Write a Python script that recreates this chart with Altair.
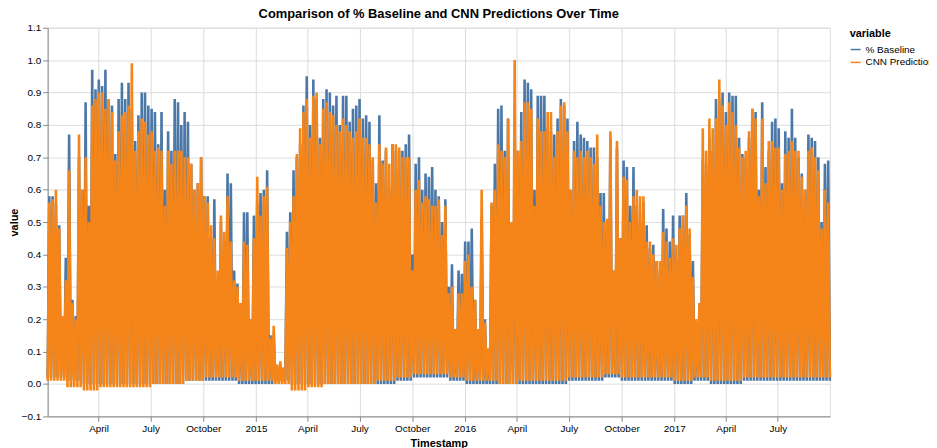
import altair as alt
import pandas as pd

# Peak of the daily cycle in each ~5.8-day step, read left to right off the picture
baseline_peaks = [
    0.58, 0.58, 0.56, 0.49, 0.20, 0.39, 0.77, 0.26, 0.21, 0.70,
    0.60, 0.87, 0.55, 0.97, 0.91, 0.94, 0.92, 0.97, 0.88, 0.86,
    0.71, 0.88, 0.93, 0.88, 0.93, 0.85, 0.75, 0.83, 0.90, 0.90,
    0.86, 0.85, 0.84, 0.74, 0.84, 0.60, 0.78, 0.72, 0.88, 0.87,
    0.80, 0.84, 0.81, 0.68, 0.60, 0.62, 0.70, 0.58, 0.58, 0.45,
    0.57, 0.30, 0.50, 0.44, 0.65, 0.62, 0.35, 0.31, 0.25, 0.53,
    0.53, 0.20, 0.52, 0.56, 0.59, 0.60, 0.66, 0.15, 0.15, 0.05,
    0.05, 0.05, 0.47, 0.53, 0.66, 0.70, 0.74, 0.86, 0.95, 0.80,
    0.94, 0.88, 0.76, 0.88, 0.91, 0.90, 0.86, 0.89, 0.80, 0.89,
    0.89, 0.81, 0.85, 0.86, 0.88, 0.82, 0.83, 0.81, 0.69, 0.62,
    0.83, 0.69, 0.72, 0.60, 0.74, 0.72, 0.72, 0.72, 0.74, 0.77,
    0.40, 0.68, 0.70, 0.60, 0.65, 0.64, 0.67, 0.60, 0.58, 0.50,
    0.57, 0.30, 0.37, 0.17, 0.35, 0.34, 0.44, 0.44, 0.48, 0.26,
    0.16, 0.51, 0.20, 0.10, 0.55, 0.68, 0.85, 0.86, 0.72, 0.82,
    0.48, 0.80, 0.72, 0.84, 0.94, 0.93, 0.91, 0.60, 0.89, 0.89,
    0.89, 0.79, 0.78, 0.77, 0.82, 0.88, 0.86, 0.82, 0.60, 0.75,
    0.81, 0.77, 0.76, 0.75, 0.73, 0.73, 0.70, 0.59, 0.59, 0.50,
    0.76, 0.35, 0.73, 0.45, 0.69, 0.67, 0.55, 0.67, 0.55, 0.50,
    0.56, 0.49, 0.42, 0.43, 0.38, 0.35, 0.54, 0.48, 0.44, 0.52,
    0.38, 0.52, 0.52, 0.59, 0.46, 0.38, 0.19, 0.25, 0.69, 0.68,
    0.76, 0.72, 0.88, 0.88, 0.90, 0.84, 0.90, 0.89, 0.89, 0.76,
    0.71, 0.70, 0.76, 0.85, 0.84, 0.60, 0.87, 0.67, 0.72, 0.81,
    0.82, 0.79, 0.62, 0.78, 0.76, 0.85, 0.76, 0.70, 0.65, 0.60,
    0.77, 0.76, 0.75, 0.70, 0.50, 0.68, 0.69,
]
cnn_peaks = [
    0.56, 0.57, 0.60, 0.48, 0.21, 0.32, 0.66, 0.25, 0.20, 0.77,
    0.60, 0.70, 0.50, 0.86, 0.88, 0.90, 0.90, 0.85, 0.88, 0.84,
    0.69, 0.78, 0.83, 0.84, 0.86, 0.99, 0.72, 0.78, 0.82, 0.81,
    0.77, 0.78, 0.72, 0.73, 0.72, 0.55, 0.72, 0.68, 0.72, 0.72,
    0.72, 0.70, 0.70, 0.68, 0.60, 0.62, 0.70, 0.58, 0.56, 0.49,
    0.45, 0.35, 0.52, 0.47, 0.58, 0.44, 0.32, 0.30, 0.25, 0.44,
    0.43, 0.20, 0.45, 0.64, 0.52, 0.58, 0.61, 0.14, 0.18, 0.06,
    0.07, 0.05, 0.42, 0.50, 0.58, 0.71, 0.79, 0.84, 0.88, 0.76,
    0.89, 0.90, 0.74, 0.85, 0.87, 0.84, 0.83, 0.80, 0.78, 0.82,
    0.80, 0.78, 0.76, 0.78, 0.82, 0.76, 0.76, 0.74, 0.70, 0.56,
    0.74, 0.68, 0.73, 0.68, 0.74, 0.74, 0.73, 0.70, 0.70, 0.70,
    0.35, 0.60, 0.63, 0.56, 0.58, 0.57, 0.55, 0.55, 0.57, 0.46,
    0.55, 0.28, 0.30, 0.17, 0.28, 0.28, 0.38, 0.40, 0.30, 0.26,
    0.17, 0.60, 0.19, 0.11, 0.56, 0.60, 0.74, 0.72, 0.70, 0.82,
    0.50, 1.00, 0.72, 0.75, 0.87, 0.87, 0.85, 0.55, 0.82, 0.78,
    0.78, 0.84, 0.84, 0.70, 0.78, 0.86, 0.87, 0.78, 0.60, 0.72,
    0.70, 0.72, 0.70, 0.72, 0.70, 0.68, 0.77, 0.55, 0.50, 0.51,
    0.78, 0.35, 0.75, 0.45, 0.64, 0.63, 0.50, 0.58, 0.60, 0.58,
    0.58, 0.44, 0.44, 0.40, 0.38, 0.38, 0.47, 0.44, 0.39, 0.45,
    0.43, 0.48, 0.52, 0.55, 0.48, 0.33, 0.20, 0.25, 0.79, 0.72,
    0.82, 0.79, 0.82, 0.94, 0.86, 0.80, 0.87, 0.84, 0.80, 0.73,
    0.70, 0.72, 0.78, 0.85, 0.82, 0.58, 0.82, 0.62, 0.75, 0.75,
    0.73, 0.73, 0.60, 0.71, 0.72, 0.75, 0.72, 0.72, 0.64, 0.60,
    0.72, 0.73, 0.70, 0.66, 0.48, 0.60, 0.56,
]

# Night-time floor per month, Jan 2014 .. Sep 2017
baseline_lows = [
    0.02, 0.01, 0.00, 0.00, 0.00, 0.00, 0.00, 0.00, 0.01, 0.01, 0.01, 0.00,
    0.00, 0.01, 0.00, 0.00, 0.00, 0.00, 0.00, 0.00, 0.01, 0.02, 0.02, 0.01,
    0.00, 0.00, 0.00, 0.00, 0.00, 0.00, 0.01, 0.01, 0.02, 0.01, 0.01, 0.01,
    0.00, 0.01, 0.00, 0.00, 0.01, 0.01, 0.01, 0.01, 0.01,
]
cnn_lows = [
    0.01, -0.01, -0.02, -0.01, -0.01, -0.01, 0.00, 0.00, 0.01, 0.02, 0.02, 0.01,
    0.01, 0.00, -0.02, -0.01, 0.00, 0.00, 0.00, 0.01, 0.02, 0.03, 0.03, 0.02,
    0.01, 0.01, 0.00, 0.01, 0.01, 0.01, 0.02, 0.02, 0.03, 0.02, 0.02, 0.02,
    0.01, 0.02, 0.01, 0.01, 0.02, 0.02, 0.02, 0.02, 0.02,
]

y_ticks = [-0.1, 0.0, 0.1, 0.2, 0.3, 0.4, 0.5, 0.6, 0.7, 0.8, 0.9, 1.0, 1.1]

first_day, last_day = "2014-01-02", "2017-09-30"

# alternate night floor / day peak along the time axis
n = len(baseline_peaks)
stamps = pd.date_range(first_day, last_day, periods=2 * n + 1)
month_idx = (stamps.year - 2014) * 12 + stamps.month - 1

rows = []
for name, peaks, lows in [("% Baseline", baseline_peaks, baseline_lows),
                          ("CNN Prediction", cnn_peaks, cnn_lows)]:
    for k, ts in enumerate(stamps):
        val = peaks[k // 2] if k % 2 else lows[month_idx[k]]
        rows.append({"Timestamp": ts, "variable": name, "value": val})
df = pd.DataFrame(rows)

# thick strokes so the dense daily cycle reads as a filled band
chart = alt.Chart(df).mark_line(strokeWidth=2.6, strokeJoin="bevel").encode(
    x=alt.X("Timestamp:T", title="Timestamp"),
    y=alt.Y("value:Q", scale=alt.Scale(domain=[-0.1, 1.1]),
            axis=alt.Axis(values=y_ticks, format=".1f", titlePadding=2)),
    color=alt.Color("variable:N"),
).properties(
    title=alt.TitleParams("Comparison of % Baseline and CNN Predictions Over Time", offset=2),
    width=789,
    height=392,
    autosize=alt.AutoSizeParams(type="none"),
    padding={"left": 40, "top": 18, "right": 100, "bottom": 30},
).configure(
    font="Liberation Sans"
)

chart.save("out.html", embed_options={"renderer": "svg", "actions": False})
